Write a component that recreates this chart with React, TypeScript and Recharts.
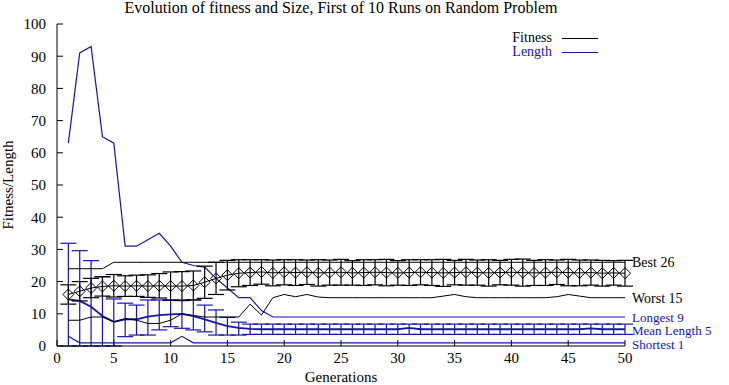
import React from 'react';
import { LineChart, Line, XAxis, YAxis, ErrorBar, ReferenceDot } from 'recharts';

const BLUE = '#1414b0';
const FONT = '"Liberation Serif", "DejaVu Serif", serif';

const generations = [
  1, 2, 3, 4, 5, 6, 7, 8, 9, 10, 11, 12, 13, 14, 15, 16, 17, 18, 19, 20, 21, 22, 23, 24, 25,
  26, 27, 28, 29, 30, 31, 32, 33, 34, 35, 36, 37, 38, 39, 40, 41, 42, 43, 44, 45, 46, 47, 48, 49, 50,
];

const bestFitness = [
  24, 24, 24, 24, 26, 26, 26, 26, 26, 26, 26, 26, 26, 26, 26, 26, 26, 26, 26, 26, 26, 26, 26, 26, 26,
  26, 26, 26, 26, 26, 26, 26, 26, 26, 26, 26, 26, 26, 26, 26, 26, 26, 26, 26, 26, 26, 26, 26, 26, 26,
];

const meanFitness = [
  16, 17, 18, 18.5, 18.7, 18.6, 18.7, 18.6, 18.7, 18.6, 18.6, 18.8, 19.8, 21, 22, 22.6, 22.8, 23, 22.7, 22.9,
  22.8, 22.9, 22.7, 22.8, 22.9, 22.7, 22.8, 22.9, 22.8, 22.7, 22.8, 22.9, 22.8, 22.7, 22.8, 22.9, 22.8, 22.7,
  22.8, 22.9, 22.8, 22.7, 22.8, 22.9, 22.8, 22.7, 22.8, 22.6, 22.7, 22.6,
];

const fitnessError = [
  3, 3, 3, 3, 3.5, 3.2, 3.3, 3.5, 3.8, 4.4, 4.5, 4.5, 5, 5, 4.6, 4.2, 4, 3.8, 4, 3.9, 4, 3.8, 4.1, 3.9, 4,
  3.8, 4, 3.9, 4.1, 3.8, 4, 3.9, 4, 4.2, 3.8, 4, 3.9, 4.1, 3.8, 4, 4.2, 3.9, 4, 3.8, 4.1, 4, 3.9, 4, 3.8, 4,
];

const worstFitness = [
  8, 8, 9, 9, 7.5, 8.5, 8, 7, 7, 8, 10, 9.5, 9, 9, 9, 9, 13, 9.6, 15, 16, 15.3, 16, 15.2, 15, 15,
  15, 15, 15, 15, 15, 15, 15, 15, 15.5, 16, 15.3, 15, 15, 15, 15, 15, 15, 15, 15.3, 16, 15.5, 15, 15, 15, 15,
];

const longestLength = [
  63, 91, 93, 65, 63, 31, 31, 33, 35, 31, 26, 25, 24.5, 21, 18, 15, 15, 11, 9, 9, 9, 9, 9, 9, 9,
  9, 9, 9, 9, 9, 9, 9, 9, 9, 9, 9, 9, 9, 9, 9, 9, 9, 9, 9, 9, 9, 9, 9, 9, 9,
];

const meanLength = [
  14.5, 14, 12.2, 9.3, 7.5, 8.3, 8.3, 9.1, 9.6, 9.8, 10, 9.3, 8.3, 7.2, 6.2, 5.6, 5.3, 5.2, 5.2, 5.2,
  5.2, 5.2, 5.2, 5.2, 5.2, 5.2, 5.2, 5.2, 5.2, 5.2, 5.6, 5.2, 5.2, 5.2, 5.2, 5.2, 5.2, 5.2, 5.2, 5.2,
  5.2, 5.2, 5.2, 5.2, 5.2, 5.2, 5.5, 5.2, 5.2, 5.2,
];

const lengthLow = [
  0, 0, 0, 0, 0, 2.9, 3.4, 3.4, 5, 6, 5.5, 5, 4.4, 3.4, 3.4, 3.4, 3.6, 3.6, 3.6, 3.6, 3.6, 3.6, 3.6, 3.6, 3.6,
  3.6, 3.6, 3.6, 3.6, 3.6, 3.6, 3.6, 3.6, 3.6, 3.6, 3.6, 3.6, 3.6, 3.6, 3.6, 3.6, 3.6, 3.6, 3.6, 3.6, 3.6, 3.6, 3.6, 3.6, 3.6,
];

const lengthHigh = [
  31.9, 29.6, 26.5, 21.5, 14.6, 13.3, 12.7, 14.3, 14.3, 14.3, 14.3, 14.3, 12.7, 11.2, 8.9, 7.4, 6.8, 6.8, 6.8, 6.8,
  6.8, 6.8, 6.8, 6.8, 6.8, 6.8, 6.8, 6.8, 6.8, 6.8, 6.8, 6.8, 6.8, 6.8, 6.8, 6.8, 6.8, 6.8, 6.8, 6.8,
  6.8, 6.8, 6.8, 6.8, 6.8, 6.8, 6.8, 6.8, 6.8, 6.8,
];

const shortestLength = [
  3, 1, 1, 1, 1, 1, 1, 1, 1, 1, 3, 1, 1, 1, 1, 1, 1, 1, 1, 1, 1, 1, 1, 1, 1,
  1, 1, 1, 1, 1, 1, 1, 1, 1, 1, 1, 1, 1, 1, 1, 1, 1, 1, 1, 1, 1, 1, 1, 1, 1,
];

const xTicks = [0, 5, 10, 15, 20, 25, 30, 35, 40, 45, 50];
const yTicks = [0, 10, 20, 30, 40, 50, 60, 70, 80, 90, 100];

const legendItems = [
  { label: 'Fitness', color: '#000' },
  { label: 'Length', color: BLUE },
];

// end-of-run labels; labelAt is where the text sits on the y scale (spread apart like the original)
const last = generations.length - 1;
const endLabels = [
  { text: 'Best', value: bestFitness[last], labelAt: 26, color: '#000', size: 14 },
  { text: 'Worst', value: worstFitness[last], labelAt: 15, color: '#000', size: 14 },
  { text: 'Longest', value: longestLength[last], labelAt: 9, color: BLUE, size: 13 },
  { text: 'Mean Length', value: meanLength[last], labelAt: 4.7, color: BLUE, size: 13 },
  { text: 'Shortest', value: shortestLength[last], labelAt: 0.4, color: BLUE, size: 13 },
];

const data = generations.map((gen, i) => ({
  gen,
  best: bestFitness[i],
  meanFit: meanFitness[i],
  fitErr: fitnessError[i],
  worst: worstFitness[i],
  longest: longestLength[i],
  meanLen: meanLength[i],
  lenErr: [meanLength[i] - lengthLow[i], lengthHigh[i] - meanLength[i]],
  shortest: shortestLength[i],
}));

// open diamond marker for the mean fitness
const Diamond = (props: any) => {
  const { cx, cy, key } = props;
  if (cx == null || cy == null) return <g key={key} />;
  return (
    <path
      key={key}
      d={`M${cx - 5.5},${cy} L${cx},${cy - 5.5} L${cx + 5.5},${cy} L${cx},${cy + 5.5} Z`}
      fill="none"
      stroke="#000"
      strokeWidth={1}
    />
  );
};

const App: React.FC = () => {
  return (
    <div style={{ position: 'absolute', left: 0, top: 0, width: 729, height: 385, background: '#fff', fontFamily: FONT }}>
      <div
        style={{
          position: 'absolute',
          top: -1,
          left: 57,
          width: 568,
          textAlign: 'center',
          fontSize: 16,
          lineHeight: '18px',
          color: '#000',
        }}
      >
        Evolution of fitness and Size, First of 10 Runs on Random Problem
      </div>
      {/* key box, top right inside the plot */}
      <div style={{ position: 'absolute', top: 31, left: 480, width: 118, fontSize: 14, lineHeight: '14px', zIndex: 2 }}>
        {legendItems.map((item) => (
          <div key={item.label} style={{ display: 'flex', alignItems: 'center', justifyContent: 'flex-end' }}>
            <span style={{ color: item.color }}>{item.label}</span>
            <span style={{ display: 'inline-block', width: 36, height: 1, background: item.color, marginLeft: 10 }} />
          </div>
        ))}
      </div>
      <LineChart width={729} height={385} data={data} margin={{ top: 24, right: 104, bottom: 0, left: 0 }}>
        <XAxis
          xAxisId="b"
          dataKey="gen"
          type="number"
          domain={[0, 50]}
          ticks={xTicks}
          height={39}
          tickSize={-6}
          tickMargin={12}
          axisLine={{ stroke: '#000' }}
          tickLine={{ stroke: '#000' }}
          tick={{ fill: '#000', fontSize: 15, fontFamily: FONT }}
          label={{ value: 'Generations', position: 'insideBottom', offset: 3, fill: '#000', fontSize: 15, fontFamily: FONT }}
        />
        <XAxis
          xAxisId="t"
          orientation="top"
          dataKey="gen"
          type="number"
          domain={[0, 50]}
          ticks={xTicks}
          height={0}
          mirror
          tickSize={6}
          tickFormatter={() => ''}
          axisLine={{ stroke: '#000' }}
          tickLine={{ stroke: '#000' }}
        />
        <YAxis
          yAxisId="l"
          type="number"
          domain={[0, 100]}
          ticks={yTicks}
          width={57}
          tickSize={-6}
          tickMargin={17}
          axisLine={{ stroke: '#000' }}
          tickLine={{ stroke: '#000' }}
          tick={{ fill: '#000', fontSize: 15, fontFamily: FONT }}
          label={{
            value: 'Fitness/Length',
            angle: -90,
            position: 'insideLeft',
            offset: 8,
            fill: '#000',
            fontSize: 15,
            fontFamily: FONT,
            style: { textAnchor: 'middle' },
          }}
        />
        <YAxis
          yAxisId="r"
          orientation="right"
          type="number"
          domain={[0, 100]}
          ticks={yTicks}
          width={0}
          mirror
          tickSize={6}
          tickFormatter={() => ''}
          axisLine={{ stroke: '#000' }}
          tickLine={{ stroke: '#000' }}
        />

        <Line xAxisId="b" yAxisId="l" type="linear" dataKey="longest" stroke={BLUE} strokeWidth={1.2} dot={false} activeDot={false} isAnimationActive={false} />
        <Line xAxisId="b" yAxisId="l" type="linear" dataKey="shortest" stroke={BLUE} strokeWidth={1.2} dot={false} activeDot={false} isAnimationActive={false} />
        <Line xAxisId="b" yAxisId="l" type="linear" dataKey="meanLen" stroke={BLUE} strokeWidth={1.8} dot={false} activeDot={false} isAnimationActive={false}>
          <ErrorBar dataKey="lenErr" direction="y" width={8} stroke={BLUE} strokeWidth={1.2} isAnimationActive={false} />
        </Line>
        <Line xAxisId="b" yAxisId="l" type="linear" dataKey="best" stroke="#000" strokeWidth={1} dot={false} activeDot={false} isAnimationActive={false} />
        <Line xAxisId="b" yAxisId="l" type="linear" dataKey="worst" stroke="#000" strokeWidth={1} dot={false} activeDot={false} isAnimationActive={false} />
        <Line xAxisId="b" yAxisId="l" type="linear" dataKey="meanFit" stroke="#000" strokeWidth={1} dot={Diamond} activeDot={false} isAnimationActive={false}>
          <ErrorBar dataKey="fitErr" direction="y" width={8} stroke="#000" strokeWidth={1.2} isAnimationActive={false} />
        </Line>

        {endLabels.map((l) => (
          <ReferenceDot
            key={l.text}
            xAxisId="b"
            yAxisId="l"
            x={50}
            y={l.labelAt}
            r={0}
            fill="none"
            stroke="none"
            label={{
              value: `${l.text} ${Math.round(l.value)}`,
              position: 'right',
              offset: 7,
              fill: l.color,
              fontSize: l.size,
              fontFamily: FONT,
            }}
          />
        ))}
      </LineChart>
    </div>
  );
};

export default App;
